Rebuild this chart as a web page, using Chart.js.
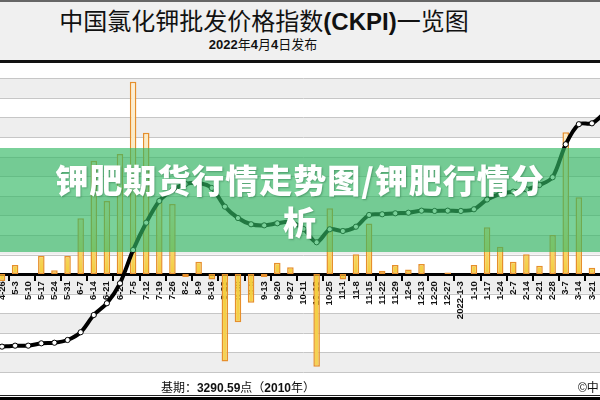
<!DOCTYPE html>
<html>
<head>
<meta charset="utf-8">
<script src="https://cdn.jsdelivr.net/npm/chart.js@4.4.1/dist/chart.umd.min.js"></script>
<style>
  html, body { margin: 0; padding: 0; width: 600px; height: 400px; overflow: hidden; background: #fff; }
  body { position: relative; font-family: "Liberation Sans", "Noto Sans CJK SC", sans-serif; color: #111; }
  #head { position: absolute; left: 0; top: 0; width: 600px; height: 58px; background: #f0f0f0;
          border-top: 2px solid #666; border-bottom: 3px solid #111; }
  #title { position: absolute; left: 0; top: 7px; width: 528px; text-align: center; font-size: 24px; line-height: 26px; }
  #sub { position: absolute; left: 0; top: 36px; width: 526px; text-align: center; font-size: 13px; line-height: 14px; }
  #wrap { position: absolute; left: -20px; top: 63px; width: 640px; height: 320px; }
  #banner { position: absolute; left: 0; top: 148px; width: 600px; height: 104px; background: rgba(50, 185, 100, 0.65); }
  #banner div { width: 505px; margin: 0 auto; padding-top: 10px; text-align: center; color: #fff;
                font: 900 33px/42px "Noto Sans CJK SC", sans-serif; letter-spacing: 1px;
                text-shadow: 1px 1px 2px rgba(0, 70, 30, 0.35); }
  #foot { position: absolute; left: 0; top: 381px; width: 476px; text-align: center; font-size: 12px; line-height: 14px; }
  #copy { position: absolute; left: 578px; top: 381px; font-size: 12px; line-height: 14px; white-space: nowrap; }
  #rule { position: absolute; left: 0; top: 395px; width: 600px; height: 1px; border-top: 1px solid #222; border-bottom: 3px solid #000; }
</style>
</head>
<body>
<div id="head">
  <div id="title">中国氯化钾批发价格指数<b>(CKPI)</b>一览图</div>
  <div id="sub"><b>2022</b>年<b>4</b>月<b>4</b>日发布</div>
</div>
<div id="wrap"><canvas id="chart"></canvas></div>
<div id="banner"><div>钾肥期货行情走势图/钾肥行情分析</div></div>
<div id="foot">基期：<b>3290.59</b>点（<b>2010</b>年）</div>
<div id="copy">©中</div>
<div id="rule"></div>

<script>
// weekly release dates (3-28 is just past the right edge)
const weeks = ['4-26', '5-3', '5-10', '5-17', '5-24', '5-31', '6-7', '6-14', '6-21', '6-28',
  '7-5', '7-12', '7-19', '7-26', '8-2', '8-9', '8-16', '8-23', '8-30', '9-6',
  '9-13', '9-20', '9-27', '10-11', '10-18', '10-25', '11-1', '11-8', '11-15', '11-22',
  '11-29', '12-6', '12-13', '12-20', '12-27', '2022-1-3', '1-10', '1-17', '1-24', '2-7',
  '2-14', '2-21', '2-28', '3-7', '3-14', '3-21', '3-28'];

// weekly change (bars)
const weeklyChange = [-3.5, 4.6, 0, 9.4, 2, 9.2, 28.5, 57.9, 37.3, 61.3,
  98.3, 72.2, 37, 35.8, -1.5, 6.3, -2.7, -44.7, -24.6, -14.6,
  -1.5, 5.8, 3.5, 0, -47.3, 33.6, -2.7, 10.1, 25.9, 1.7,
  4.6, 2.4, 5.2, 0, 0.8, 0, 4.6, 23.9, 14, 6.3,
  10.1, 4.3, 20, 72.4, 39.2, 3.3, null];

// CKPI index (line)
const ckpi = [2059, 2069, 2069, 2093, 2099, 2127, 2206, 2382, 2502, 2706,
  3046, 3325, 3547, 3659, 3720, 3731, 3680, 3489, 3373, 3309,
  3298, 3319, 3332, 3261, 3125, 3258, 3240, 3284, 3404, 3411,
  3421, 3427, 3448, 3445, 3448, 3445, 3462, 3562, 3618, 3642,
  3666, 3710, 3789, 4126, 4331, 4340, 4450];

const barMin = -50, barMax = 100, barStep = 10;
const idxMin = 1800, idxMax = 4800;

// alternating grey/white bands + grid lines behind everything
const bands = {
  id: 'bands',
  beforeDraw(chart) {
    const { ctx, chartArea: a, scales: { y } } = chart;
    ctx.save();
    for (let v = barMin; v < barMax; v += barStep) {
      const top = y.getPixelForValue(v + barStep), bot = y.getPixelForValue(v);
      const k = Math.round((barMax - v - barStep) / barStep);
      ctx.fillStyle = k % 2 === 0 ? '#eeeeee' : '#ffffff';
      ctx.fillRect(a.left, top, a.right - a.left, bot - top);
    }
    ctx.strokeStyle = '#c6c6c6';
    ctx.lineWidth = 1;
    for (let v = barMin; v <= barMax; v += barStep) {
      const p = Math.round(y.getPixelForValue(v)) + 0.5;
      ctx.beginPath();
      ctx.moveTo(a.left, p);
      ctx.lineTo(a.right, p);
      ctx.stroke();
    }
    ctx.restore();
  }
};

function barFill(c) {
  const chart = c.chart;
  const a = chart.chartArea;
  if (!a) return '#f5d04a';
  const zero = chart.scales.y.getPixelForValue(0);
  const r = (zero - a.top) / (a.bottom - a.top);
  const g = chart.ctx.createLinearGradient(0, a.top, 0, a.bottom);
  g.addColorStop(0, '#fcefd6');
  g.addColorStop(r * 0.7, '#fae6b0');
  g.addColorStop(r, '#f4cd3a');
  g.addColorStop(1, '#f5d35a');
  return g;
}

new Chart(document.getElementById('chart'), {
  type: 'bar',
  data: {
    labels: weeks,
    datasets: [{
      type: 'line',
      data: ckpi,
      yAxisID: 'y2',
      order: 0,
      borderColor: '#000',
      borderWidth: 4,
      tension: 0.3,
      pointRadius: 2.6,
      pointBackgroundColor: '#fff',
      pointBorderColor: '#000',
      pointBorderWidth: 1
    }, {
      type: 'bar',
      data: weeklyChange,
      yAxisID: 'y',
      order: 1,
      backgroundColor: barFill,
      borderColor: '#e68f2c',
      borderWidth: 1.5,
      borderSkipped: false,
      categoryPercentage: 1,
      barPercentage: 0.5
    }]
  },
  options: {
    responsive: true,
    maintainAspectRatio: false,
    animation: false,
    devicePixelRatio: 1,
    layout: { padding: { left: 15.44, right: 8.4, top: 15.3, bottom: 11 } },
    plugins: { legend: { display: false }, tooltip: { enabled: false } },
    scales: {
      x: {
        position: { y: 0 },
        z: 1,
        offset: true,
        border: { display: true, color: '#000', width: 3 },
        grid: {
          offset: true,
          drawOnChartArea: false,
          drawTicks: true,
          tickLength: 5,
          lineWidth: 2,
          color: c => (c.index % 2 === 1 ? '#000' : 'rgba(0,0,0,0)')
        },
        ticks: {
          autoSkip: false,
          minRotation: 90,
          maxRotation: 90,
          padding: 2,
          color: '#111',
          font: { family: 'Liberation Sans', size: 9.5, weight: 'bold' }
        }
      },
      y: { display: false, min: barMin, max: barMax },
      y2: { display: false, min: idxMin, max: idxMax }
    }
  },
  plugins: [bands]
});
</script>
</body>
</html>
